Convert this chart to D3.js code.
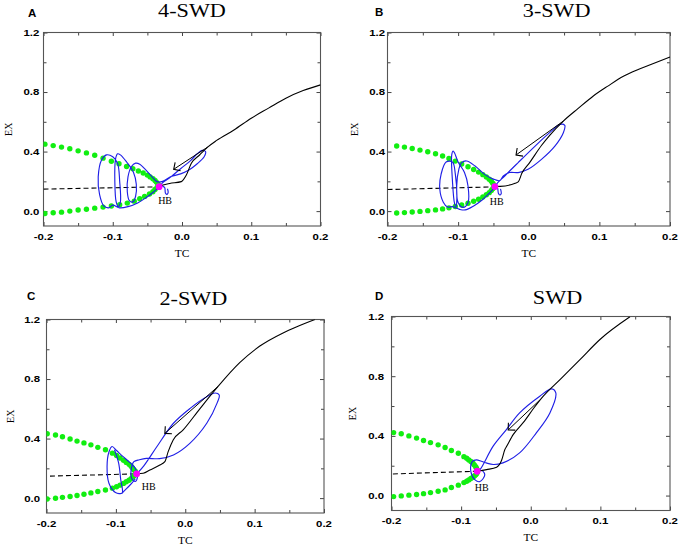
<!DOCTYPE html>
<html>
<head>
<meta charset="utf-8">
<script src="https://cdnjs.cloudflare.com/ajax/libs/d3/7.8.5/d3.min.js"></script>
<style>
body { margin: 0; background: #fff; }
</style>
</head>
<body>
<svg id="chart" width="680" height="546"></svg>
<script>
// ticks
var xTicks = [-0.2, -0.1, 0.0, 0.1, 0.2];
var xMinor = [-0.15, -0.05, 0.05, 0.15];
var yTicks = [0.0, 0.4, 0.8, 1.2];
var yMinor = [0.2, 0.6, 1.0];
var letters = ["A", "B", "C", "D"];
var titles = ["4-SWD", "3-SWD", "2-SWD", "SWD"];

// punto HB de cada panel
var hbA = [-0.033, 0.164];
var hbB = [-0.048, 0.165];
var hbC = [-0.070, 0.163];
var hbD = [-0.077, 0.163];

// rama inestable (discontinua)
var dashA = [[-0.2, 0.148], [-0.035, 0.163]];
var dashB = [[-0.2, 0.145], [-0.048, 0.163]];
var dashC = [[-0.195, 0.148], [-0.070, 0.163]];
var dashD = [[-0.198, 0.145], [-0.077, 0.163]];

// rama estable (negra)
var blackA = [[-0.033, 0.164], [-0.0275, 0.175], [-0.0178, 0.186], [-0.001, 0.198], [0.0063, 0.243], [0.0135, 0.321], [0.0254, 0.377], [0.037, 0.430], [0.050, 0.475], [0.075, 0.545], [0.100, 0.624], [0.125, 0.692], [0.150, 0.759], [0.175, 0.810], [0.200, 0.848]];
var blackB = [[-0.048, 0.165], [-0.0405, 0.166], [-0.0193, 0.187], [-0.0146, 0.198], [-0.0098, 0.254], [0.0005, 0.321], [0.0185, 0.444], [0.030, 0.511], [0.049, 0.605], [0.070, 0.690], [0.091, 0.772], [0.112, 0.840], [0.134, 0.906], [0.155, 0.952], [0.172, 0.984], [0.200, 1.035]];
var blackC = [[-0.070, 0.163], [-0.0606, 0.167], [-0.051, 0.189], [-0.0366, 0.222], [-0.0294, 0.245], [-0.0246, 0.312], [-0.0174, 0.390], [-0.003, 0.458], [0.021, 0.600], [0.047, 0.749], [0.0785, 0.910], [0.107, 1.020], [0.141, 1.110], [0.160, 1.150], [0.187, 1.200]];
var blackD = [[-0.077, 0.163], [-0.0635, 0.174], [-0.049, 0.190], [-0.042, 0.235], [-0.037, 0.310], [-0.0346, 0.330], [-0.025, 0.410], [-0.0106, 0.490], [0.005, 0.590], [0.018, 0.666], [0.042, 0.777], [0.0707, 0.911], [0.0994, 1.046], [0.1425, 1.198]];

// flechas
var arrowA = [[0.037, 0.430], [-0.012, 0.281]];
var arrowB = [[0.049, 0.605], [-0.018, 0.377]];
var arrowC = [[0.047, 0.749], [-0.0294, 0.435]];
var arrowD = [[0.013, 0.640], [-0.0324, 0.440]];

// puntos verdes (ciclos limite)
var greenUpperA = [[-0.198, 0.450], [-0.186, 0.440], [-0.174, 0.430], [-0.162, 0.419], [-0.150, 0.405], [-0.138, 0.391], [-0.126, 0.375], [-0.114, 0.356], [-0.102, 0.335], [-0.091, 0.318], [-0.080, 0.300], [-0.071, 0.285], [-0.063, 0.270], [-0.056, 0.256], [-0.050, 0.242], [-0.046, 0.230], [-0.042, 0.218], [-0.039, 0.206], [-0.037, 0.195], [-0.035, 0.185], [-0.034, 0.175]];
var greenLowerA = [[-0.198, -0.016], [-0.186, -0.011], [-0.174, -0.007], [-0.162, 0.000], [-0.150, 0.007], [-0.138, 0.013], [-0.126, 0.020], [-0.114, 0.027], [-0.102, 0.034], [-0.090, 0.043], [-0.079, 0.054], [-0.069, 0.067], [-0.061, 0.083], [-0.054, 0.099], [-0.047, 0.115], [-0.042, 0.130], [-0.039, 0.146], [-0.036, 0.159]];
var greenUpperB = [[-0.187, 0.437], [-0.176, 0.430], [-0.165, 0.421], [-0.154, 0.410], [-0.143, 0.399], [-0.132, 0.385], [-0.122, 0.370], [-0.113, 0.354], [-0.104, 0.336], [-0.095, 0.317], [-0.086, 0.298], [-0.078, 0.280], [-0.071, 0.262], [-0.065, 0.245], [-0.060, 0.229], [-0.056, 0.214], [-0.053, 0.200], [-0.051, 0.188], [-0.049, 0.176]];
var greenLowerB = [[-0.187, -0.013], [-0.176, -0.010], [-0.165, -0.006], [-0.154, -0.002], [-0.143, 0.003], [-0.132, 0.008], [-0.122, 0.015], [-0.113, 0.022], [-0.104, 0.031], [-0.095, 0.041], [-0.086, 0.053], [-0.078, 0.066], [-0.071, 0.080], [-0.065, 0.095], [-0.060, 0.110], [-0.056, 0.124], [-0.053, 0.138], [-0.051, 0.150], [-0.049, 0.160]];
var greenUpperC = [[-0.199, 0.432], [-0.187, 0.424], [-0.177, 0.412], [-0.166, 0.397], [-0.156, 0.383], [-0.146, 0.371], [-0.136, 0.358], [-0.126, 0.341], [-0.115, 0.325], [-0.105, 0.302], [-0.099, 0.286], [-0.094, 0.270], [-0.089, 0.254], [-0.085, 0.240], [-0.081, 0.227], [-0.078, 0.214], [-0.076, 0.202], [-0.074, 0.191], [-0.072, 0.180], [-0.071, 0.171]];
var greenLowerC = [[-0.199, -0.006], [-0.187, -0.001], [-0.177, 0.005], [-0.166, 0.011], [-0.156, 0.018], [-0.146, 0.026], [-0.136, 0.035], [-0.126, 0.044], [-0.115, 0.055], [-0.105, 0.067], [-0.099, 0.076], [-0.094, 0.087], [-0.089, 0.099], [-0.085, 0.110], [-0.081, 0.120], [-0.078, 0.131], [-0.076, 0.141], [-0.074, 0.150], [-0.072, 0.158]];
var greenUpperD = [[-0.197, 0.422], [-0.186, 0.414], [-0.175, 0.400], [-0.164, 0.385], [-0.154, 0.369], [-0.144, 0.355], [-0.133, 0.340], [-0.123, 0.322], [-0.114, 0.302], [-0.104, 0.284], [-0.096, 0.261], [-0.092, 0.250], [-0.089, 0.239], [-0.086, 0.228], [-0.083, 0.217], [-0.081, 0.205], [-0.079, 0.194], [-0.078, 0.183], [-0.077, 0.172]];
var greenLowerD = [[-0.197, -0.007], [-0.186, -0.002], [-0.175, 0.003], [-0.164, 0.007], [-0.154, 0.013], [-0.144, 0.020], [-0.133, 0.029], [-0.123, 0.038], [-0.114, 0.054], [-0.104, 0.070], [-0.096, 0.087], [-0.092, 0.096], [-0.089, 0.105], [-0.086, 0.114], [-0.083, 0.123], [-0.081, 0.131], [-0.079, 0.139], [-0.078, 0.147], [-0.077, 0.154]];

// trayectorias (azul)
var blueA = [[
    [-0.021, 0.150], [-0.020, 0.125], [-0.022, 0.112], [-0.024, 0.122], [-0.025, 0.158],
    [-0.030, 0.178], [-0.016, 0.230], [-0.002, 0.285], [0.012, 0.338], [0.022, 0.385], [0.029, 0.408], [0.034, 0.400], [0.032, 0.365], [0.022, 0.318], [0.010, 0.276], [-0.002, 0.250], [-0.016, 0.232],
    [-0.028, 0.200], [-0.036, 0.198], [-0.045, 0.240], [-0.054, 0.285], [-0.061, 0.315], [-0.067, 0.322], [-0.073, 0.300], [-0.078, 0.230], [-0.079, 0.130], [-0.076, 0.070], [-0.071, 0.062], [-0.067, 0.100], [-0.066, 0.180], [-0.070, 0.260],
    [-0.080, 0.330], [-0.089, 0.378], [-0.093, 0.385], [-0.096, 0.350], [-0.097, 0.200], [-0.095, 0.060], [-0.092, 0.030], [-0.089, 0.060], [-0.090, 0.200], [-0.093, 0.320],
    [-0.100, 0.365], [-0.109, 0.378], [-0.116, 0.345], [-0.121, 0.230], [-0.119, 0.110], [-0.113, 0.035], [-0.106, 0.022], [-0.100, 0.040],
    [-0.090, 0.022], [-0.078, 0.030], [-0.064, 0.055], [-0.052, 0.090], [-0.042, 0.125], [-0.035, 0.155]
]];
var blueB = [[
    [-0.040, 0.150], [-0.039, 0.118], [-0.041, 0.108], [-0.043, 0.120], [-0.044, 0.155],
    [-0.046, 0.175], [-0.034, 0.236], [-0.015, 0.326], [0.009, 0.437], [0.032, 0.537], [0.044, 0.582], [0.051, 0.576], [0.049, 0.527], [0.037, 0.437], [0.018, 0.348], [-0.001, 0.281], [-0.015, 0.259], [-0.027, 0.259], [-0.036, 0.236], [-0.041, 0.205],
    [-0.050, 0.215], [-0.062, 0.245], [-0.076, 0.303], [-0.088, 0.337], [-0.095, 0.326], [-0.099, 0.281], [-0.102, 0.169], [-0.100, 0.058], [-0.093, 0.025], [-0.086, 0.058], [-0.086, 0.169], [-0.091, 0.260], [-0.100, 0.330],
    [-0.105, 0.390], [-0.107, 0.404], [-0.109, 0.380], [-0.108, 0.200], [-0.105, 0.050], [-0.103, 0.030], [-0.102, 0.060], [-0.104, 0.250], [-0.108, 0.330],
    [-0.117, 0.330], [-0.124, 0.250], [-0.126, 0.150], [-0.121, 0.060], [-0.115, 0.028], [-0.108, 0.030],
    [-0.098, 0.012], [-0.090, 0.008], [-0.078, 0.035], [-0.066, 0.075], [-0.057, 0.115], [-0.050, 0.150]
]];
var blueC = [[
    [-0.070, 0.163], [-0.060, 0.215], [-0.041, 0.345], [-0.017, 0.503], [0.007, 0.603], [0.031, 0.681], [0.043, 0.706], [0.049, 0.693], [0.046, 0.640], [0.031, 0.503], [0.0066, 0.368], [-0.017, 0.290], [-0.037, 0.265], [-0.056, 0.267], [-0.066, 0.258], [-0.074, 0.245], [-0.078, 0.190], [-0.077, 0.130], [-0.072, 0.112], [-0.069, 0.140],
    [-0.072, 0.200], [-0.080, 0.240], [-0.090, 0.280], [-0.099, 0.320], [-0.1055, 0.347], [-0.110, 0.310], [-0.1127, 0.212], [-0.110, 0.100], [-0.1006, 0.038], [-0.091, 0.034], [-0.093, 0.123], [-0.096, 0.235], [-0.102, 0.325]
], [
    [-0.091, 0.034], [-0.084, 0.067], [-0.077, 0.100], [-0.072, 0.130]
]];
var blueD = [[
    [-0.077, 0.163], [-0.073, 0.174], [-0.054, 0.331], [-0.035, 0.442], [-0.016, 0.554], [0.013, 0.666], [0.030, 0.715], [0.036, 0.688], [0.0275, 0.554], [0.008, 0.420], [-0.016, 0.286], [-0.040, 0.219], [-0.054, 0.208], [-0.064, 0.219], [-0.071, 0.230], [-0.078, 0.239], [-0.084, 0.228], [-0.086, 0.161], [-0.080, 0.105], [-0.073, 0.094], [-0.066, 0.139], [-0.070, 0.170]
]];

// ---------- layout ----------
var panels = [
    { letra: letters[0], titulo: titles[0], frame: [43.5, 32.5, 320.5, 226], letraXY: [28, 16.5], tituloXY: [192, 17.3], exX: 8.9, yGap: 4.2, hbOff: [-1, 17.5],
      hb: hbA, dash: dashA, black: blackA, arrow: arrowA, up: greenUpperA, low: greenLowerA, blue: blueA },
    { letra: letters[1], titulo: titles[1], frame: [387.5, 32.5, 670, 226], letraXY: [375, 16.2], tituloXY: [556.7, 17], exX: 354, yGap: 2.5, hbOff: [-5, 18.7],
      hb: hbB, dash: dashB, black: blackB, arrow: arrowB, up: greenUpperB, low: greenLowerB, blue: blueB },
    { letra: letters[2], titulo: titles[2], frame: [46.5, 319.5, 324, 513], letraXY: [27, 299.7], tituloXY: [193.3, 304.7], exX: 10, yGap: 6.5, hbOff: [5, 15.7],
      hb: hbC, dash: dashC, black: blackC, arrow: arrowC, up: greenUpperC, low: greenLowerC, blue: blueC },
    { letra: letters[3], titulo: titles[3], frame: [391.5, 316.5, 670, 510.5], letraXY: [375, 299.7], tituloXY: [557.5, 303.7], exX: 352.5, yGap: 7.5, hbOff: [-2.3, 20],
      hb: hbD, dash: dashD, black: blackD, arrow: arrowD, up: greenUpperD, low: greenLowerD, blue: blueD }
];

var svg = d3.select("#chart");
var SX = 1.2; // el original esta estirado a lo ancho

svg.append("defs").append("marker")
    .attr("id", "flecha")
    .attr("markerUnits", "userSpaceOnUse")
    .attr("markerWidth", 14).attr("markerHeight", 14)
    .attr("refX", 0).attr("refY", 0)
    .attr("viewBox", "-7 -7 8 14")
    .attr("orient", "auto")
    .append("path")
    .attr("d", "M-5,-5 L0,0 L-5,5")
    .attr("fill", "none")
    .attr("stroke", "#000")
    .attr("stroke-width", 1.1);

function texto(g, x, y, s, font, size, weight, anchor) {
    return g.append("text")
        .attr("transform", "translate(" + x + "," + y + ") scale(" + SX + ",1)")
        .attr("text-anchor", anchor || "start")
        .style("font-family", font)
        .style("font-size", size + "px")
        .style("font-weight", weight || "normal")
        .text(s);
}

panels.forEach(function (p, i) {
    DibujarPanel(p, i);
});

function DibujarPanel(p, i) {
    var f = p.frame;
    var g = svg.append("g").attr("class", "panel");

    var x = d3.scaleLinear().domain([-0.2, 0.2]).range([f[0], f[2]]);
    var y = d3.scaleLinear().domain([-0.1, 1.2]).range([f[3], f[1]]);

    var clipId = "clip" + i;
    g.append("clipPath").attr("id", clipId)
        .append("rect")
        .attr("x", f[0]).attr("y", f[1])
        .attr("width", f[2] - f[0]).attr("height", f[3] - f[1]);

    // ejes con ticks hacia dentro
    var fmt = function (d) { return d.toFixed(1); };
    var ejes = [
        { gen: d3.axisBottom(x).tickValues(xTicks).tickSizeInner(-4), minor: d3.axisBottom(x).tickValues(xMinor).tickSizeInner(-3), t: "translate(0," + f[3] + ")" },
        { gen: d3.axisTop(x).tickValues(xTicks).tickSizeInner(-3.5), minor: d3.axisTop(x).tickValues(xMinor).tickSizeInner(-3), t: "translate(0," + f[1] + ")" },
        { gen: d3.axisLeft(y).tickValues(yTicks).tickSizeInner(-4), minor: d3.axisLeft(y).tickValues(yMinor).tickSizeInner(-3), t: "translate(" + f[0] + ",0)" },
        { gen: d3.axisRight(y).tickValues(yTicks).tickSizeInner(-4), minor: d3.axisRight(y).tickValues(yMinor).tickSizeInner(-3), t: "translate(" + f[2] + ",0)" }
    ];
    ejes.forEach(function (e) {
        [e.gen, e.minor].forEach(function (a) {
            var ga = g.append("g").attr("transform", e.t)
                .call(a.tickSizeOuter(0).tickFormat(""));
            ga.select(".domain").remove();
            ga.selectAll("line").attr("stroke", "#444").attr("stroke-width", 1);
        });
    });

    // etiquetas de ticks
    xTicks.forEach(function (v) {
        texto(g, x(v), f[3] + 13.8, fmt(v), "'Liberation Sans', Arial, sans-serif", 9.5, "bold", "middle");
    });
    yTicks.forEach(function (v) {
        texto(g, f[0] - p.yGap, y(v) + 3.4, fmt(v), "'Liberation Sans', Arial, sans-serif", 9.5, "bold", "end");
    });

    // marco
    g.append("rect")
        .attr("x", f[0]).attr("y", f[1])
        .attr("width", f[2] - f[0]).attr("height", f[3] - f[1])
        .attr("fill", "none")
        .attr("stroke", "#555")
        .attr("stroke-width", 1.1);

    // titulos
    texto(g, p.letraXY[0], p.letraXY[1], p.letra, "'Liberation Sans', Arial, sans-serif", 11.5, "bold", "start")
        .attr("transform", "translate(" + p.letraXY[0] + "," + p.letraXY[1] + ")");
    texto(g, p.tituloXY[0], p.tituloXY[1], p.titulo, "'Liberation Serif', 'Times New Roman', serif", 18.5, "normal", "middle");
    texto(g, (f[0] + f[2]) / 2, f[3] + 30.5, "TC", "'Liberation Serif', 'Times New Roman', serif", 9.5, "normal", "middle");
    g.append("text")
        .attr("transform", "translate(" + p.exX + "," + ((f[1] + f[3]) / 2) + ") rotate(-90)")
        .attr("text-anchor", "middle")
        .attr("dy", "0.35em")
        .style("font-family", "'Liberation Serif', 'Times New Roman', serif")
        .style("font-size", "10px")
        .text("EX");

    var plot = g.append("g").attr("clip-path", "url(#" + clipId + ")");
    var linea = d3.line().x(function (d) { return x(d[0]); }).y(function (d) { return y(d[1]); });

    // rama inestable
    plot.append("path")
        .attr("d", linea(p.dash))
        .attr("fill", "none")
        .attr("stroke", "#000")
        .attr("stroke-width", 1.1)
        .attr("stroke-dasharray", "5,3");

    // puntos verdes
    plot.selectAll("circle.verde")
        .data(p.up.concat(p.low))
        .enter().append("circle")
        .attr("class", "verde")
        .attr("cx", function (d) { return x(d[0]); })
        .attr("cy", function (d) { return y(d[1]); })
        .attr("r", 2.7)
        .attr("fill", "#11ee11");

    // trayectorias azules
    plot.selectAll("path.azul")
        .data(p.blue)
        .enter().append("path")
        .attr("class", "azul")
        .attr("d", d3.line().x(function (d) { return x(d[0]); }).y(function (d) { return y(d[1]); }).curve(d3.curveCatmullRom.alpha(0.5)))
        .attr("fill", "none")
        .attr("stroke", "#1f1fe6")
        .attr("stroke-width", 1.15);

    // rama estable
    plot.append("path")
        .attr("d", d3.line().x(function (d) { return x(d[0]); }).y(function (d) { return y(d[1]); }).curve(d3.curveMonotoneX)(p.black))
        .attr("fill", "none")
        .attr("stroke", "#000")
        .attr("stroke-width", 1.1);

    // flecha
    plot.append("path")
        .attr("d", linea(p.arrow))
        .attr("fill", "none")
        .attr("stroke", "#000")
        .attr("stroke-width", 1)
        .attr("marker-end", "url(#flecha)");

    // punto HB
    plot.append("circle")
        .attr("cx", x(p.hb[0]))
        .attr("cy", y(p.hb[1]))
        .attr("r", 3.4)
        .attr("fill", "#ff00ff");

    g.append("text")
        .attr("x", x(p.hb[0]) + p.hbOff[0])
        .attr("y", y(p.hb[1]) + p.hbOff[1])
        .style("font-family", "'Liberation Serif', 'Times New Roman', serif")
        .style("font-size", "10px")
        .text("HB");
}
</script>
</body>
</html>
